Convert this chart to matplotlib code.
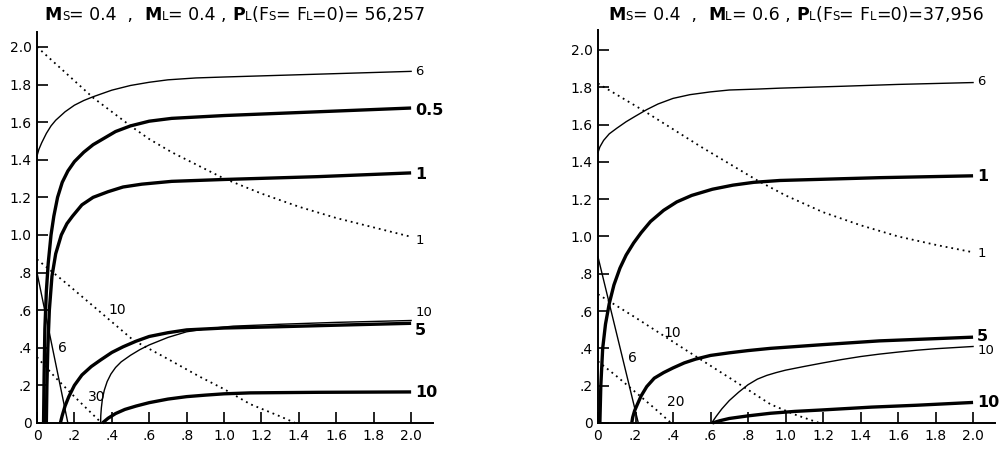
import matplotlib
matplotlib.use("Agg")
import matplotlib.pyplot as plt
from matplotlib.offsetbox import TextArea, HPacker, AnchoredOffsetbox

# ---------------- data: left panel (Ms=0.4, ML=0.4) ----------------
L_thin6_x = [0, 0.01, 0.025, 0.05, 0.075, 0.1, 0.15, 0.2, 0.25, 0.3, 0.4, 0.5, 0.6, 0.7, 0.85, 1.0, 1.5, 2.0]
L_thin6_y = [1.42, 1.455, 1.49, 1.54, 1.58, 1.61, 1.655, 1.69, 1.715, 1.735, 1.77, 1.795, 1.812, 1.825, 1.835, 1.84, 1.855, 1.87]

L_b05_x = [0.035, 0.038, 0.042, 0.05, 0.06, 0.075, 0.09, 0.11, 0.135, 0.165, 0.2, 0.25, 0.3, 0.36, 0.42, 0.5, 0.6, 0.72, 1.0, 1.5, 2.0]
L_b05_y = [0, 0.25, 0.5, 0.7, 0.85, 1.0, 1.1, 1.2, 1.28, 1.34, 1.39, 1.44, 1.48, 1.515, 1.55, 1.58, 1.605, 1.62, 1.635, 1.655, 1.675]

L_b1_x = [0.05, 0.053, 0.058, 0.066, 0.08, 0.1, 0.13, 0.16, 0.19, 0.24, 0.3, 0.38, 0.46, 0.56, 0.72, 1.0, 1.5, 2.0]
L_b1_y = [0, 0.2, 0.4, 0.6, 0.78, 0.9, 1.0, 1.06, 1.1, 1.16, 1.2, 1.23, 1.255, 1.27, 1.285, 1.295, 1.31, 1.33]

L_dot1_x = [0, 0.1, 0.2, 0.3, 0.4, 0.5, 0.6, 0.72, 0.8, 1.0, 1.2, 1.4, 1.6, 1.8, 2.0]
L_dot1_y = [2.0, 1.91, 1.82, 1.73, 1.655, 1.58, 1.51, 1.44, 1.40, 1.30, 1.22, 1.15, 1.09, 1.04, 0.99]

L_line6_x = [0, 0.165]
L_line6_y = [0.80, 0]

L_dot10_x = [0, 0.16, 0.35, 0.515, 0.7, 0.87, 1.0, 1.14, 1.3, 1.38]
L_dot10_y = [0.87, 0.74, 0.58, 0.44, 0.34, 0.246, 0.18, 0.10, 0.035, 0]

L_dot30_x = [0, 0.1, 0.2, 0.345]
L_dot30_y = [0.35, 0.24, 0.14, 0]

L_b5_x = [0.125, 0.135, 0.15, 0.17, 0.2, 0.24, 0.29, 0.34, 0.4, 0.46, 0.53, 0.6, 0.7, 0.8, 0.9, 1.0, 1.3, 1.6, 2.0]
L_b5_y = [0, 0.04, 0.09, 0.14, 0.2, 0.255, 0.3, 0.335, 0.375, 0.405, 0.435, 0.46, 0.48, 0.495, 0.5, 0.505, 0.512, 0.52, 0.53]

L_thin10_x = [0.34, 0.341, 0.344, 0.35, 0.36, 0.375, 0.395, 0.42, 0.45, 0.5, 0.55, 0.6, 0.7, 0.8, 0.9, 1.05, 1.3, 1.6, 2.0]
L_thin10_y = [0, 0.04, 0.08, 0.13, 0.175, 0.22, 0.26, 0.295, 0.325, 0.36, 0.39, 0.415, 0.455, 0.485, 0.5, 0.515, 0.525, 0.535, 0.545]

L_b10_x = [0.35, 0.38, 0.42, 0.47, 0.53, 0.6, 0.7, 0.8, 0.9, 1.0, 1.14, 1.5, 2.0]
L_b10_y = [0, 0.025, 0.05, 0.072, 0.09, 0.108, 0.127, 0.14, 0.148, 0.155, 0.16, 0.163, 0.165]

# ---------------- data: right panel (Ms=0.4, ML=0.6) ----------------
R_thin6_x = [0, 0.01, 0.03, 0.06, 0.1, 0.15, 0.2, 0.26, 0.32, 0.4, 0.49, 0.6, 0.7, 0.85, 0.97, 1.3, 1.6, 2.0]
R_thin6_y = [1.45, 1.48, 1.515, 1.55, 1.58, 1.615, 1.645, 1.68, 1.71, 1.74, 1.76, 1.775, 1.785, 1.79, 1.795, 1.805, 1.815, 1.825]

R_dot1_x = [0, 0.1, 0.25, 0.4, 0.55, 0.7, 0.85, 1.0, 1.2, 1.4, 1.6, 1.8, 2.0]
R_dot1_y = [1.82, 1.76, 1.67, 1.575, 1.48, 1.39, 1.30, 1.22, 1.13, 1.06, 1.00, 0.955, 0.915]

R_b1_x = [0.01, 0.015, 0.025, 0.04, 0.06, 0.085, 0.117, 0.15, 0.19, 0.23, 0.28, 0.35, 0.42, 0.5, 0.61, 0.72, 0.83, 0.97, 1.5, 2.0]
R_b1_y = [0, 0.2, 0.4, 0.53, 0.64, 0.74, 0.83, 0.9, 0.965, 1.02, 1.08, 1.14, 1.185, 1.22, 1.253, 1.275, 1.29, 1.30, 1.315, 1.325]

R_line6_x = [0, 0.215]
R_line6_y = [0.89, 0]

R_dot10_x = [0, 0.2, 0.47, 0.72, 0.92, 1.05, 1.18]
R_dot10_y = [0.69, 0.565, 0.39, 0.23, 0.10, 0.045, 0]

R_dot20_x = [0, 0.1, 0.2, 0.3, 0.39]
R_dot20_y = [0.33, 0.25, 0.165, 0.08, 0]

R_b5_x = [0.18, 0.185, 0.195, 0.21, 0.23, 0.26, 0.3, 0.35, 0.4, 0.46, 0.52, 0.6, 0.7, 0.8, 0.92, 1.2, 1.5, 2.0]
R_b5_y = [0, 0.03, 0.065, 0.1, 0.145, 0.195, 0.24, 0.27, 0.295, 0.322, 0.342, 0.362, 0.376, 0.388, 0.40, 0.42, 0.44, 0.46]

R_thin10_x = [0.606, 0.63, 0.66, 0.7, 0.75, 0.8, 0.85, 0.9, 0.95, 1.0, 1.1, 1.2, 1.3, 1.4, 1.5, 1.6, 1.7, 1.8, 1.9, 2.0]
R_thin10_y = [0, 0.035, 0.075, 0.12, 0.165, 0.205, 0.235, 0.255, 0.27, 0.283, 0.303, 0.322, 0.34, 0.356, 0.369, 0.38, 0.39, 0.398, 0.404, 0.41]

R_b10_x = [0.61, 0.65, 0.7, 0.8, 0.92, 1.05, 1.2, 1.46, 1.7, 2.0]
R_b10_y = [0, 0.012, 0.024, 0.038, 0.052, 0.062, 0.07, 0.085, 0.095, 0.11]

# tick labels
tick_vals = [0, 0.2, 0.4, 0.6, 0.8, 1.0, 1.2, 1.4, 1.6, 1.8, 2.0]
tick_labels = ["0", ".2", ".4", ".6", ".8", "1.0", "1.2", "1.4", "1.6", "1.8", "2.0"]

# end labels: (text, y, bold)
L_end_labels = [("6", 1.87, False), ("0.5", 1.66, True), ("1", 1.32, True), ("1", 0.97, False),
                ("10", 0.585, False), ("5", 0.49, True), ("10", 0.16, True)]
L_in_labels = [("10", 0.38, 0.60), ("6", 0.11, 0.40), ("30", 0.27, 0.14)]
R_end_labels = [("6", 1.83, False), ("1", 1.32, True), ("1", 0.91, False),
                ("5", 0.465, True), ("10", 0.39, False), ("10", 0.11, True)]
R_in_labels = [("10", 0.35, 0.48), ("6", 0.16, 0.35), ("20", 0.37, 0.11)]

L_title = [("M", "b"), ("S", "s"), ("= 0.4  ,  ", "n"), ("M", "b"), ("L", "s"), ("= 0.4 , ", "n"),
           ("P", "b"), ("L", "s"), ("(", "n"), ("F", "n"), ("S", "s"), ("= ", "n"), ("F", "n"),
           ("L", "s"), ("=0)= 56,257", "n")]
R_title = [("M", "b"), ("S", "s"), ("= 0.4  ,  ", "n"), ("M", "b"), ("L", "s"), ("= 0.6 , ", "n"),
           ("P", "b"), ("L", "s"), ("(", "n"), ("F", "n"), ("S", "s"), ("= ", "n"), ("F", "n"),
           ("L", "s"), ("=0)=37,956", "n")]

THICK = 2.4
THIN = 1.0
DOT = dict(color="black", lw=1.3, linestyle=(0, (1, 2.2)))

fig = plt.figure(figsize=(10, 4.49), dpi=100)
axL = fig.add_axes([0.037, 0.058, 0.396, 0.871])
axR = fig.add_axes([0.598, 0.058, 0.397, 0.8753])


def style(ax, ytop):
    ax.set_xlim(0, 2.117)
    ax.set_ylim(0, ytop)
    for s in ("top", "right"):
        ax.spines[s].set_visible(False)
    for s in ("left", "bottom"):
        ax.spines[s].set_linewidth(1.4)
    ax.set_xticks(tick_vals)
    ax.set_xticklabels(tick_labels)
    ax.set_yticks(tick_vals)
    ax.set_yticklabels(tick_labels)
    ax.tick_params(direction="in", length=8, width=1.2, labelsize=10, pad=4)


def thick(ax, x, y):
    ax.plot(x, y, color="black", lw=THICK, solid_capstyle="butt",
            solid_joinstyle="round", clip_on=False)


def thin(ax, x, y):
    ax.plot(x, y, color="black", lw=THIN, solid_joinstyle="round", clip_on=False)


def dotted(ax, x, y):
    ax.plot(x, y, clip_on=False, **DOT)


def labels(ax, ends, ins):
    for t, y, b in ends:
        ax.text(2.022, y, t, ha="left", va="center", fontsize=11.5 if b else 9.5,
                fontweight="bold" if b else "normal", clip_on=False)
    for t, x, y in ins:
        ax.text(x, y, t, ha="left", va="center", fontsize=10)


def title(pieces, xc):
    kids = []
    for t, k in pieces:
        if k == "b":
            props = dict(fontsize=12.5, fontweight="bold", color="black")
        elif k == "s":
            props = dict(fontsize=8.5, color="black")
        else:
            props = dict(fontsize=12.5, color="black")
        kids.append(TextArea(t, textprops=props))
    pack = HPacker(children=kids, align="baseline", pad=0, sep=0)
    box = AnchoredOffsetbox(loc="center", child=pack, pad=0, frameon=False,
                            bbox_to_anchor=(xc, 0.967), bbox_transform=fig.transFigure,
                            borderpad=0)
    fig.add_artist(box)


# left panel
style(axL, 2.08)
thin(axL, L_thin6_x, L_thin6_y)
thick(axL, L_b05_x, L_b05_y)
thick(axL, L_b1_x, L_b1_y)
dotted(axL, L_dot1_x, L_dot1_y)
thin(axL, L_line6_x, L_line6_y)
dotted(axL, L_dot10_x, L_dot10_y)
dotted(axL, L_dot30_x, L_dot30_y)
thick(axL, L_b5_x, L_b5_y)
thin(axL, L_thin10_x, L_thin10_y)
thick(axL, L_b10_x, L_b10_y)
labels(axL, L_end_labels, L_in_labels)

# right panel
style(axR, 2.107)
thin(axR, R_thin6_x, R_thin6_y)
dotted(axR, R_dot1_x, R_dot1_y)
thick(axR, R_b1_x, R_b1_y)
thin(axR, R_line6_x, R_line6_y)
dotted(axR, R_dot10_x, R_dot10_y)
dotted(axR, R_dot20_x, R_dot20_y)
thick(axR, R_b5_x, R_b5_y)
thin(axR, R_thin10_x, R_thin10_y)
thick(axR, R_b10_x, R_b10_y)
labels(axR, R_end_labels, R_in_labels)

title(L_title, 0.235)
title(R_title, 0.796)

fig.savefig("out.png", dpi=100)
